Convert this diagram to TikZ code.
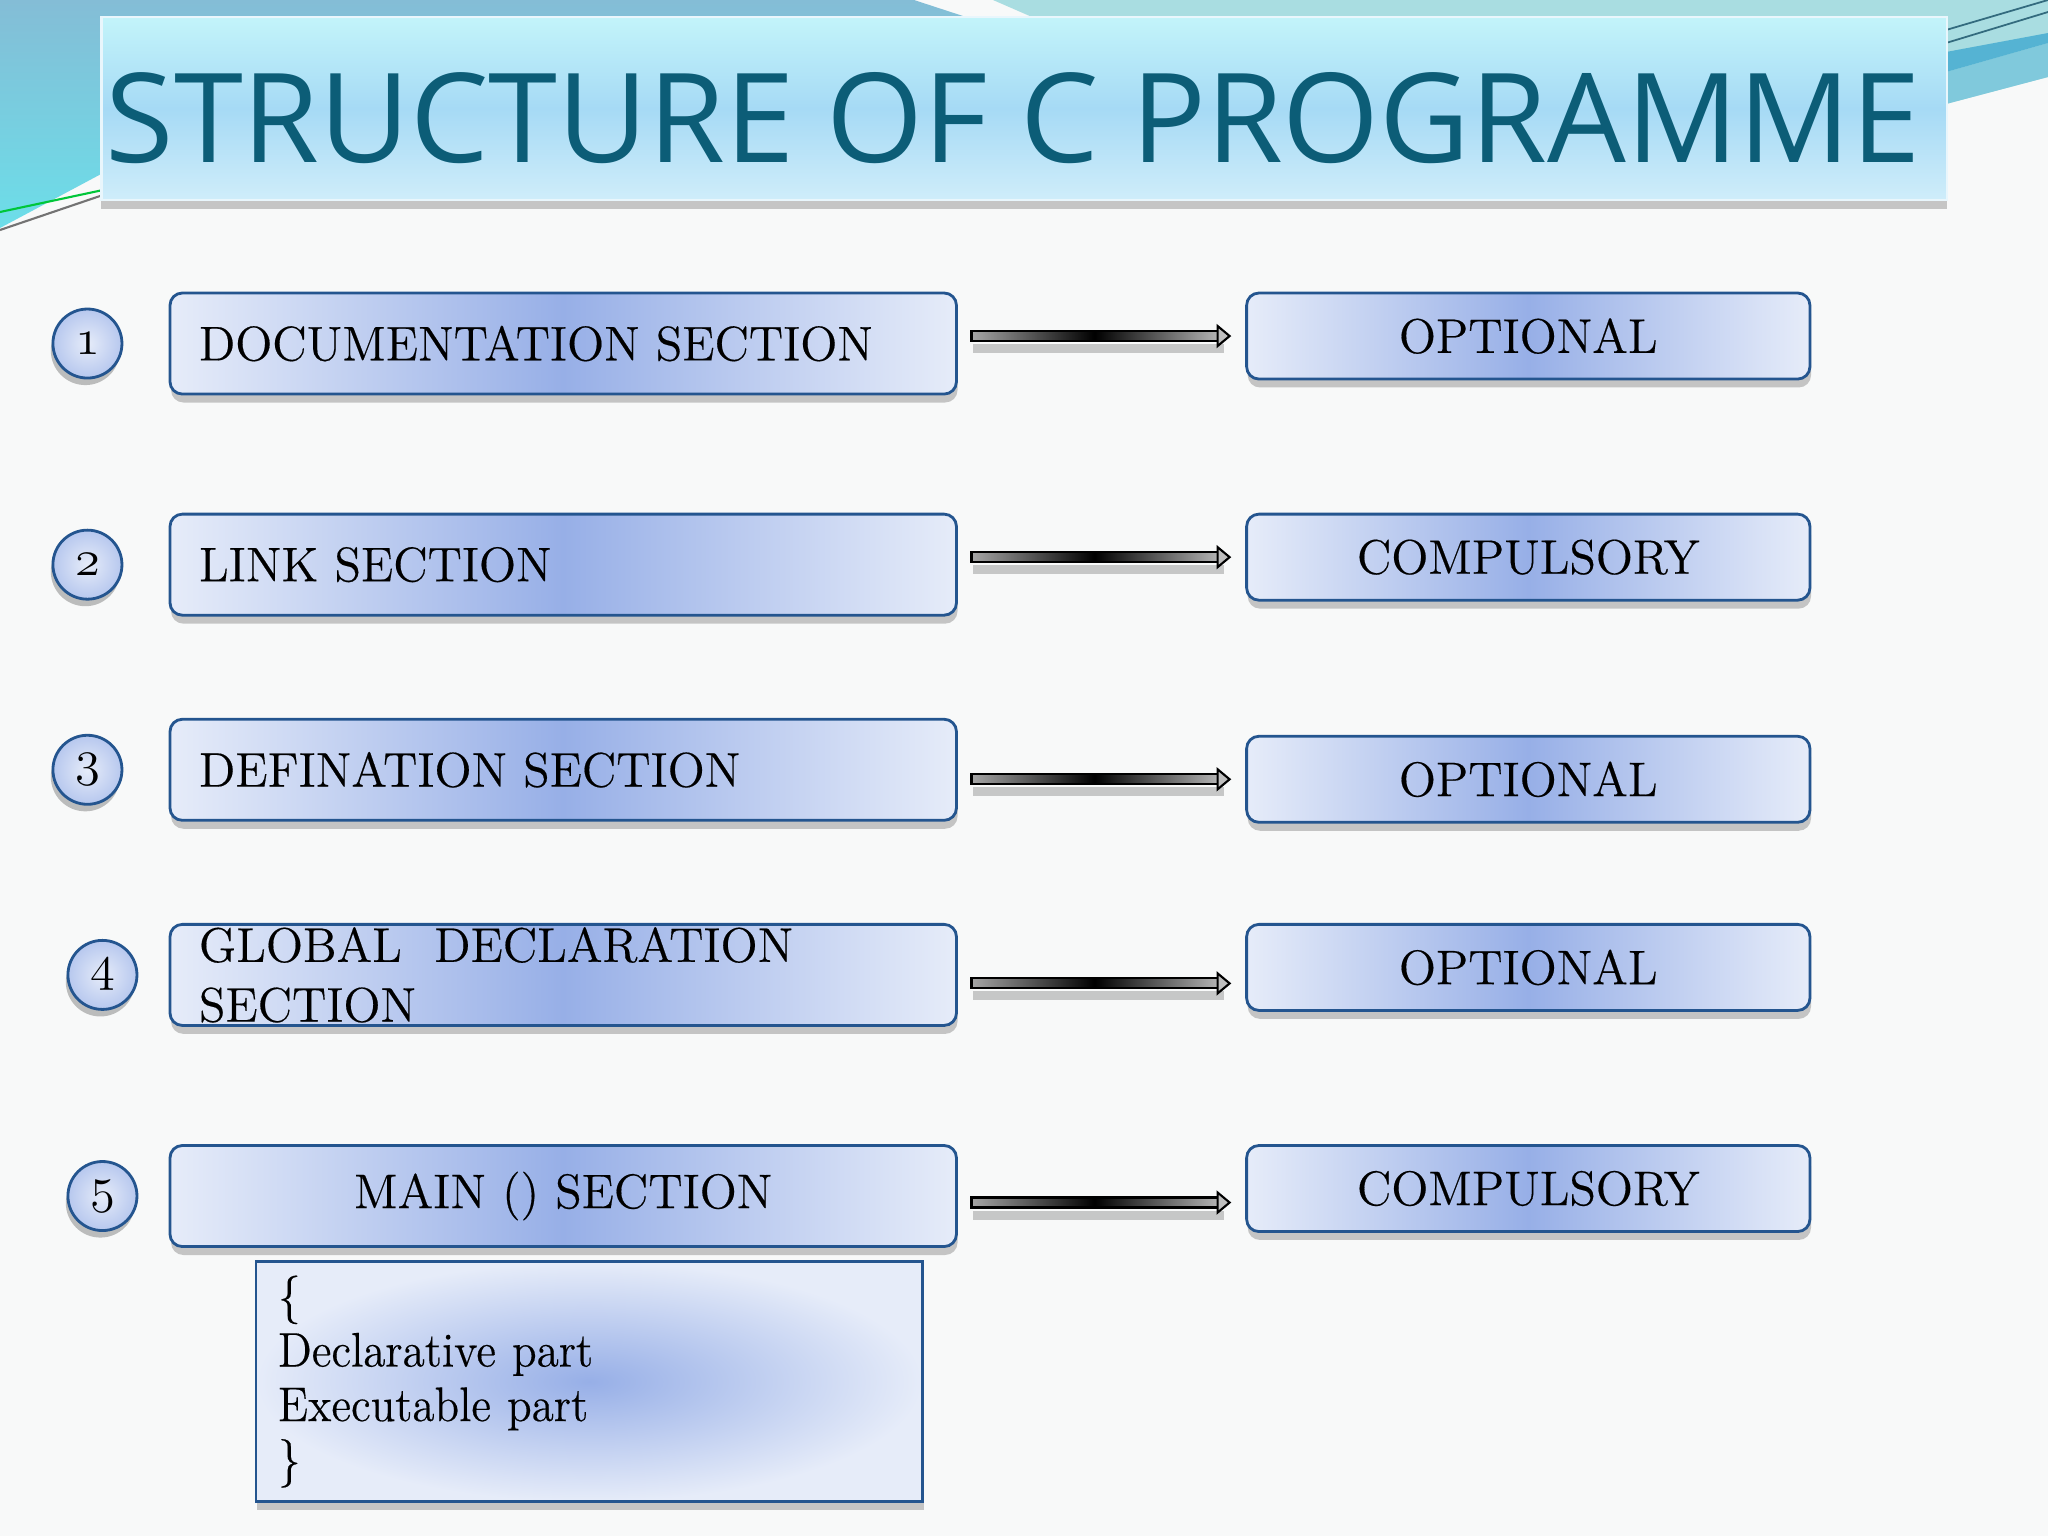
\documentclass[tikz,border=0pt]{standalone}
\usepackage{fontspec}
\newfontfamily\titlefont{Open Sans}
\newfontfamily\bodyfont{Latin Modern Roman}[FakeBold=0.35]
\newfontfamily\codefont{Latin Modern Roman}[FakeBold=0.35, FakeStretch=0.93]
\usepackage{graphicx}
\usepackage{tikz}
\usetikzlibrary{positioning, calc, shadows}
\usepackage{xcolor}
\definecolor{slidebg}{HTML}{F8F9F9}
\definecolor{topblue}{HTML}{84BDD6}
\definecolor{topcyan}{HTML}{6CDEE9}
\definecolor{sweeplight}{HTML}{A9DDE1}
\definecolor{sweepmid}{HTML}{80C9DC}
\definecolor{sweepdark}{HTML}{55B3D3}
\definecolor{titletop}{HTML}{C3F4FA}
\definecolor{titlemid}{HTML}{A6DAF5}
\definecolor{titlebot}{HTML}{CFEDFA}
\definecolor{titleink}{HTML}{0C5D77}
\definecolor{boxedge}{HTML}{24558F}
\definecolor{boxlight}{HTML}{E6ECF9}
\definecolor{boxdark}{HTML}{97AFE7}
\newcommand{\bodysize}{\bodyfont\fontsize{13.8}{17}\selectfont}
\newcommand{\osnum}[1]{{\usefont{OML}{cmm}{m}{it}#1}}
% shaded block arrow from node #1 to node #2, shifted down by #3
\newcommand{\fatarrow}[3]{%
  \path ($(#1.east |- #2.west)+(15,#3)$) coordinate (arrS)
        ($(#2.west)+(-17,#3)$) coordinate (arrE);
  \fill[black, opacity=0.2] ($(arrS)+(2,8)$) rectangle ($(arrE)+(-6,17)$);
  \shade[draw=black, line width=0.6pt, left color=black!35, right color=black!30,
         middle color=black] ($(arrS)+(0,-5)$) rectangle ($(arrE)+(-12,5)$);
  \filldraw[draw=black, line width=0.6pt, fill=black!25]
    ($(arrE)+(-12,-10)$) -- (arrE) -- ($(arrE)+(-12,10)$) -- cycle;
}

\begin{document}
\begin{tikzpicture}[
  x=0.01cm, y=-0.01cm,
  secbox/.style={draw=boxedge, line width=0.8pt, rounded corners=3.5pt, outer sep=0pt,
                 left color=boxlight, right color=boxlight, middle color=boxdark,
                 minimum width=7.86cm, minimum height=1.01cm, inner ysep=0pt,
                 inner xsep=0.29cm, text width=7.28cm, align=left, font=\bodysize,
                 drop shadow={shadow xshift=0.3pt, shadow yshift=-2.4pt,
                              opacity=0.3, fill=black!70}},
  tagbox/.style={draw=boxedge, line width=0.8pt, rounded corners=3.5pt, outer sep=0pt,
                 left color=boxlight, right color=boxlight, middle color=boxdark,
                 minimum width=5.63cm, minimum height=0.86cm, inner sep=0pt,
                 font=\bodysize,
                 drop shadow={shadow xshift=0.3pt, shadow yshift=-2.4pt,
                              opacity=0.3, fill=black!70}},
  numcirc/.style={circle, draw=boxedge, line width=0.8pt, minimum size=0.69cm,
                  inner sep=0pt, outer sep=0pt, inner color=boxlight,
                  outer color=boxdark!60!boxlight, font=\bodysize,
                  drop shadow={shadow xshift=-0.6pt, shadow yshift=-2pt,
                               opacity=0.35, fill=black!70}},
  codebox/.style={draw=boxedge, line width=0.8pt, inner color=boxdark, outer sep=0pt,
                  outer color=boxlight, minimum width=6.66cm, minimum height=2.4cm,
                  inner xsep=0.22cm, inner ysep=0pt, text width=6.22cm, align=left,
                  font=\codefont\fontsize{13.8}{15.5}\selectfont,
                  drop shadow={shadow xshift=0.3pt, shadow yshift=-2.4pt,
                               opacity=0.3, fill=black!70}},
  titlebox/.style={draw=white!75!titlemid, line width=0.6pt, top color=titletop,
                   bottom color=titlebot, middle color=titlemid,
                   minimum width=18.44cm, minimum height=1.83cm,
                   drop shadow={shadow xshift=0pt, shadow yshift=-2.6pt,
                                opacity=0.35, fill=black!60}},
]
  \useasboundingbox (0,0) rectangle (2048,1536);
  % Slide background and swooshes
  \fill[slidebg] (0,0) rectangle (2048,1536);
  \shade[top color=topblue, bottom color=topcyan]
    (0,0) -- (914,0) -- (966,17) -- (800,120) -- (103,173) -- (0,228) -- cycle;
  \draw[green!55!teal, line width=0.6pt] (0,212) -- (103,190);
  \draw[black!55, line width=0.6pt] (0,230) -- (103,195);
  \fill[sweeplight] (993,0) -- (2048,0) -- (2048,77) -- (1946,104)
    -- (1300,80) -- (1032,17) -- cycle;
  \fill[sweepmid] (1946,72) -- (2048,43) -- (2048,77) -- (1946,104) -- cycle;
  \fill[sweepdark] (1946,52) -- (2048,33) -- (2048,43) -- (1946,72) -- cycle;
  \draw[sweepdark!60!black, line width=0.5pt] (1946,30) -- (2048,0);
  \draw[sweepdark!60!black, line width=0.5pt] (1946,43) -- (2048,12);

  % Title
  \node[titlebox] (tbox) at (1024,108.5) {};
  \node[text=titleink, inner sep=0pt] (title)
    at ([xshift=-0.11cm, yshift=-0.095cm]tbox.center)
    {\resizebox{18.13cm}{0.9cm}{\titlefont STRUCTURE OF C PROGRAMME}};

  % Sections
  \node[secbox, anchor=north west] (l1) at (170,293) {DOCUMENTATION SECTION};
  \node[secbox, below=1.2cm of l1] (l2) {LINK SECTION};
  \node[secbox, below=1.04cm of l2] (l3) {DEFINATION SECTION};
  \node[secbox, below=1.04cm of l3] (l4) {GLOBAL\ \ DECLARATION\\SECTION};
  \node[secbox, below=1.2cm of l4, align=center] (l5) {MAIN () SECTION};
  \node[codebox, below=0.15cm of l5.south west, anchor=north west, xshift=0.86cm]
    (body) {\{\\Declarative part\\Executable part\\\}};

  % Numbers
  \node[numcirc, left=0.48cm of l1] (c1) {\osnum{1}};
  \node[numcirc, left=0.48cm of l2] (c2) {\osnum{2}};
  \node[numcirc, left=0.48cm of l3] (c3) {\osnum{3}};
  \node[numcirc, left=0.33cm of l4] (c4) {\osnum{4}};
  \node[numcirc, left=0.33cm of l5] (c5) {\osnum{5}};

  % Optional / compulsory
  \node[tagbox, right=2.9cm of l1.north east, anchor=north west] (r1) {OPTIONAL};
  \node[tagbox, right=2.9cm of l2.north east, anchor=north west] (r2) {COMPULSORY};
  \node[tagbox, right=2.9cm of l3.north east, anchor=north west,
        yshift=-0.17cm] (r3) {OPTIONAL};
  \node[tagbox, right=2.9cm of l4.north east, anchor=north west] (r4) {OPTIONAL};
  \node[tagbox, right=2.9cm of l5.north east, anchor=north west] (r5) {COMPULSORY};

  % Arrows
  \fatarrow{l1}{r1}{0}
  \fatarrow{l2}{r2}{0}
  \fatarrow{l3}{r3}{0}
  \fatarrow{l4}{r4}{16}
  \fatarrow{l5}{r5}{14}
\end{tikzpicture}
\end{document}
